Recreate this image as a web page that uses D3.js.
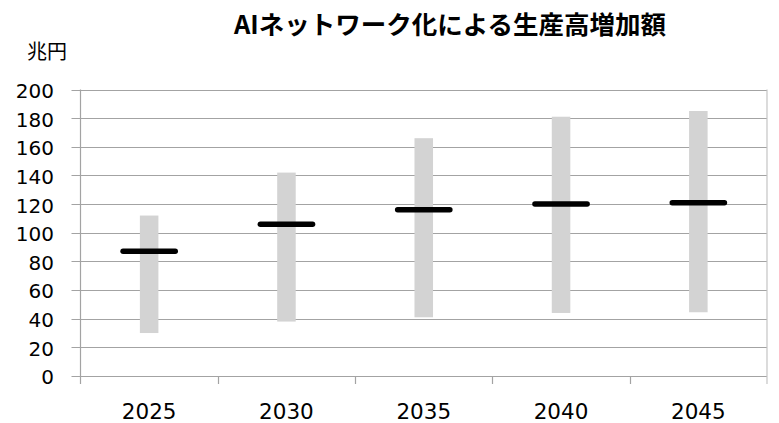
<!DOCTYPE html>
<html>
<head>
<meta charset="utf-8">
<script src="https://cdn.jsdelivr.net/npm/d3@7"></script>
<style>
  body { margin: 0; background: #fff; }
  text { font-family: "DejaVu Sans", sans-serif; fill: #000; }
  .cjk { font-family: "Noto Sans CJK JP", sans-serif; }
</style>
</head>
<body>
<script>
// values (兆円)
const years = ["2025", "2030", "2035", "2040", "2045"];
const lowValues = [30, 38, 41, 44, 44.5];
const highValues = [112, 142, 166, 181, 185];
const midValues = [87, 106, 116, 120, 121];
const yTicks = [0, 20, 40, 60, 80, 100, 120, 140, 160, 180, 200];

const width = 779, height = 423;
const plotLeft = 80.5, plotRight = 767, plotTop = 89.5, plotBottom = 376;

const rows = years.map((y, i) => ({year: y, low: lowValues[i], high: highValues[i], mid: midValues[i]}));

const svg = d3.select("body")
    .append("svg")
    .attr("width", width)
    .attr("height", height);

const x = d3.scaleBand().domain(years).range([plotLeft, plotRight]).padding(0);
const y = d3.scaleLinear().domain([0, 200]).range([plotBottom, plotTop]);

const gridColor = "#a3a3a3";

// horizontal gridlines + left ticks
svg.append("g")
  .selectAll("line")
  .data(yTicks)
  .join("line")
    .attr("x1", plotLeft - 9)
    .attr("x2", plotRight)
    .attr("y1", d => Math.round(y(d)) + 0.5)
    .attr("y2", d => Math.round(y(d)) + 0.5)
    .attr("stroke", gridColor)
    .attr("stroke-width", 1.2);

// y axis line
svg.append("line")
    .attr("x1", plotLeft).attr("x2", plotLeft)
    .attr("y1", plotTop).attr("y2", plotBottom + 8)
    .attr("stroke", gridColor).attr("stroke-width", 1.2);

// right border
svg.append("line")
    .attr("x1", plotRight).attr("x2", plotRight)
    .attr("y1", plotTop).attr("y2", plotBottom + 8)
    .attr("stroke", "#c4c4c4").attr("stroke-width", 1.2);

// x ticks at category boundaries
const bounds = years.map(d => x(d)).concat([plotRight]);
svg.append("g")
  .selectAll("line")
  .data(bounds.slice(1, -1))
  .join("line")
    .attr("x1", d => Math.round(d) + 0.5)
    .attr("x2", d => Math.round(d) + 0.5)
    .attr("y1", plotBottom)
    .attr("y2", plotBottom + 8)
    .attr("stroke", gridColor)
    .attr("stroke-width", 1.2);

// y tick labels
svg.append("g")
  .selectAll("text")
  .data(yTicks)
  .join("text")
    .attr("x", 54)
    .attr("y", d => y(d))
    .attr("dy", "0.42em")
    .attr("text-anchor", "end")
    .attr("font-size", 20)
    .text(d => d);

// x labels
svg.append("g")
  .selectAll("text")
  .data(years)
  .join("text")
    .attr("x", d => x(d) + x.bandwidth() / 2)
    .attr("y", 419)
    .attr("text-anchor", "middle")
    .attr("font-size", 21.5)
    .text(d => d);

// range bars (grey)
const barW = x.bandwidth() * 0.135;
svg.append("g")
  .selectAll("rect")
  .data(rows)
  .join("rect")
    .attr("x", d => x(d.year) + x.bandwidth() / 2 - barW / 2)
    .attr("width", barW)
    .attr("y", d => y(d.high))
    .attr("height", d => y(d.low) - y(d.high))
    .attr("fill", "#d3d3d3");

// mid markers (black)
const half = x.bandwidth() * 0.19;
svg.append("g")
  .selectAll("line")
  .data(rows)
  .join("line")
    .attr("x1", d => x(d.year) + x.bandwidth() / 2 - half)
    .attr("x2", d => x(d.year) + x.bandwidth() / 2 + half)
    .attr("y1", d => y(d.mid))
    .attr("y2", d => y(d.mid))
    .attr("stroke", "#000")
    .attr("stroke-width", 5.5)
    .attr("stroke-linecap", "round");

// title and unit
svg.append("text")
    .attr("class", "cjk")
    .attr("x", 450)
    .attr("y", 34)
    .attr("text-anchor", "middle")
    .attr("font-size", 25.5)
    .attr("font-weight", "bold")
    .text("AIネットワーク化による生産高増加額");

svg.append("text")
    .attr("class", "cjk")
    .attr("x", 47)
    .attr("y", 59)
    .attr("text-anchor", "middle")
    .attr("font-size", 20)
    .text("兆円");
</script>
</body>
</html>
